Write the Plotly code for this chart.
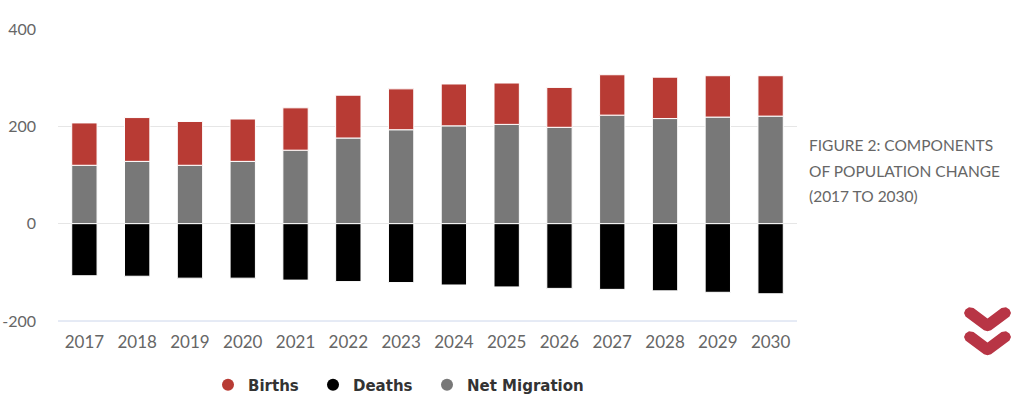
import plotly.graph_objects as go

years = [str(y) for y in range(2017, 2031)]
births = [87, 90, 90, 87, 87, 88, 84, 86, 85, 82, 83, 85, 85, 83]
deaths = [-107, -108, -112, -112, -116, -119, -121, -126, -130, -133, -135, -138, -141, -144]
net_migration = [120, 128, 120, 128, 151, 176, 193, 201, 204, 198, 223, 216, 219, 221]

y_ticks = [-200, 0, 200, 400]
y_tick_text = ["-200", "0", "200", "400"]
title_lines = ["FIGURE 2: COMPONENTS", "OF POPULATION CHANGE", "(2017 TO 2030)"]

C_BIRTHS = "#b83b34"
C_DEATHS = "#000000"
C_MIG = "#787878"
C_ICON = "#b83545"

L, R, T, B = 58, 227, 29, 91
W, H = 1024, 412
PW, PH = W - L - R, H - T - B

def px(x):
    return (x - L) / PW

def py(y):
    return (H - B - y) / PH

fig = go.Figure()
line = dict(color="#ffffff", width=1)
fig.add_trace(go.Bar(x=years, y=net_migration, name="Net Migration", marker=dict(color=C_MIG, line=line), showlegend=False))
fig.add_trace(go.Bar(x=years, y=births, name="Births", marker=dict(color=C_BIRTHS, line=line), showlegend=False))
fig.add_trace(go.Bar(x=years, y=deaths, name="Deaths", marker=dict(color=C_DEATHS, line=line), showlegend=False))

# legend entries with circular symbols, each in its own legend box for spacing
legend_items = [("Births", C_BIRTHS, "legend", 248), ("Deaths", C_DEATHS, "legend2", 353),
                ("Net Migration", C_MIG, "legend3", 467)]
legend_font = dict(family="'DejaVu Sans', sans-serif", size=15, color="#333333", weight="bold")
legend_layouts = {}
for nm, col, lg, tx in legend_items:
    fig.add_trace(go.Scatter(x=[None], y=[None], mode="markers", name=nm, legend=lg,
                             marker=dict(color=col, size=16, symbol="circle")))
    legend_layouts[lg] = dict(orientation="h", x=px(tx - 40), xanchor="left", y=py(385), yanchor="middle",
                              font=legend_font, itemsizing="constant", bgcolor="rgba(0,0,0,0)")

annotations = []
for i, t in enumerate(title_lines):
    annotations.append(dict(text=t, xref="paper", yref="paper", x=px(807), y=py(145 + 25.5 * i),
                            xanchor="left", yanchor="middle", align="left", showarrow=False,
                            font=dict(family="Lato, 'Open Sans', sans-serif", size=15.5, color="#666666")))

def chevron(dy):
    pts = [(964, 313), (965.5, 309.5), (969, 307.3), (973.5, 308), (987.5, 318.5), (1001.5, 308),
           (1006, 307.3), (1009.5, 309.5), (1011, 313), (1009.5, 316.5), (991, 330.3), (987.5, 331.3),
           (984, 330.3), (965.5, 316.5)]
    return "M " + " L ".join(f"{px(x)},{py(y + dy)}" for x, y in pts) + " Z"

fig.update_layout(
    width=W, height=H,
    margin=dict(l=L, r=R, t=T, b=B, autoexpand=False),
    barmode="relative",
    bargap=0.52,
    plot_bgcolor="#ffffff",
    paper_bgcolor="#ffffff",
    font=dict(family="Lato, 'Open Sans', sans-serif", color="#666666", size=16),
    showlegend=True,
    xaxis=dict(showgrid=False, showline=False, ticks="", tickfont=dict(size=17, color="#666666"),
               ticklabelstandoff=9, fixedrange=True, automargin=False),
    yaxis=dict(range=[-200, 400], tickvals=y_ticks, ticktext=y_tick_text, showgrid=True, gridcolor="#e6e6e6",
               gridwidth=1, zeroline=True, zerolinecolor="#e6e6e6", zerolinewidth=1,
               tickfont=dict(size=16, color="#666666"), ticklabelstandoff=21, automargin=False,
               fixedrange=True),
    annotations=annotations,
    shapes=[
        dict(type="line", xref="paper", yref="paper", x0=0, x1=1, y0=0, y1=0,
             line=dict(color="#ccd6eb", width=1)),
        dict(type="path", xref="paper", yref="paper", path=chevron(0),
             fillcolor=C_ICON, line=dict(width=0)),
        dict(type="path", xref="paper", yref="paper", path=chevron(24),
             fillcolor=C_ICON, line=dict(width=0)),
    ],
    **legend_layouts,
)

fig.write_html("out.html", config={"displayModeBar": False},
               post_script="document.body.style.margin='0';document.body.style.overflow='hidden';")
